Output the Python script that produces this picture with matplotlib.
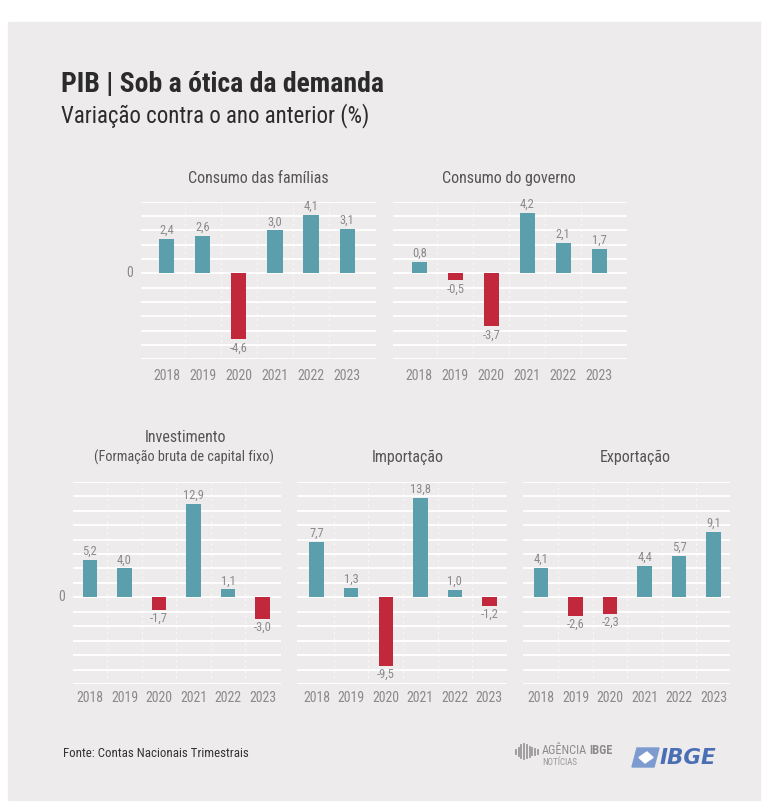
import matplotlib
matplotlib.use("Agg")
import matplotlib.pyplot as plt
import matplotlib.font_manager as fm
from matplotlib.patches import Rectangle, Polygon

years = ["2018", "2019", "2020", "2021", "2022", "2023"]
familias = [2.4, 2.6, -4.6, 3.0, 4.1, 3.1]
governo = [0.8, -0.5, -3.7, 4.2, 2.1, 1.7]
investimento = [5.2, 4.0, -1.7, 12.9, 1.1, -3.0]
importacao = [7.7, 1.3, -9.5, 13.8, 1.0, -1.2]
exportacao = [4.1, -2.6, -2.3, 4.4, 5.7, 9.1]

W, H = 768, 805
BG = "#eeebec"
TEAL = "#5b9fad"
RED = "#c1283b"
GRAY = "#8a8a8a"
DARK = "#2b2b2b"


def pick(names):
    for n in names:
        try:
            fm.findfont(fm.FontProperties(family=n), fallback_to_default=False)
            return n
        except ValueError:
            pass
    return "DejaVu Sans"


FONT = pick(["Liberation Sans Narrow", "Roboto Condensed", "Open Sans Condensed", "Roboto"])
plt.rcParams["font.family"] = [FONT, "DejaVu Sans"]

fig = plt.figure(figsize=(W / 100, H / 100), dpi=100)
fig.patch.set_facecolor("white")
fig.patches.append(Rectangle((8 / W, 1 - 800 / H), 752 / W, 778 / H,
                             transform=fig.transFigure, color=BG, zorder=-10))


def px_axes(x0, y0, x1, y1):
    return fig.add_axes([x0 / W, 1 - y1 / H, (x1 - x0) / W, (y1 - y0) / H])


def panel(box, xlim, ylim, step, values, year_y, zero_label):
    ax = px_axes(*box)
    ax.set_facecolor("none")
    ax.set_xlim(*xlim)
    ax.set_ylim(*ylim)
    for v in range(ylim[0], ylim[1] + 1, step):
        ax.axhline(v, color="white", lw=1.3, zorder=1)
    for i in range(len(years) - 1):
        ax.axvline(i + 0.5, color="white", lw=0.8, ls=(0, (2, 3)), alpha=0.7, zorder=1)
    x = list(range(len(years)))
    colors = [TEAL if v >= 0 else RED for v in values]
    ax.bar(x, values, width=0.42, color=colors, zorder=2)
    for xi, v in zip(x, values):
        lab = f"{v:.1f}".replace(".", ",")
        if v >= 0:
            ax.annotate(lab, (xi, v), xytext=(0, 1.5), textcoords="offset points",
                        ha="center", va="bottom", fontsize=9, color=GRAY)
        else:
            ax.annotate(lab, (xi, v), xytext=(0, -1.5), textcoords="offset points",
                        ha="center", va="top", fontsize=9, color=GRAY)
    for xi, y in zip(x, years):
        ax.annotate(y, (xi, 0), xycoords=("data", "axes fraction"),
                    xytext=(0, -(year_y - box[3]) * 0.72), textcoords="offset points",
                    ha="center", va="center", fontsize=10, color=GRAY)
    if zero_label:
        ax.annotate("0", (xlim[0], 0), xytext=(-6, 0), textcoords="offset points",
                    ha="right", va="center", fontsize=10, color=GRAY)
    ax.set_xticks([])
    ax.set_yticks([])
    for s in ax.spines.values():
        s.set_visible(False)
    return ax


panel((141, 201.7, 376, 359.3), (-0.71, 5.8), (-6, 5), 1, familias, 376, True)
panel((393, 201.7, 627, 359.3), (-0.73, 5.77), (-6, 5), 1, governo, 376, False)
panel((73, 481.7, 281, 684), (-0.49, 5.53), (-12, 16), 2, investimento, 698, True)
panel((297, 481.7, 507, 684), (-0.57, 5.51), (-12, 16), 2, importacao, 698, False)
panel((523, 481.7, 730, 684), (-0.53, 5.48), (-12, 16), 2, exportacao, 698, False)


def ftext(x, y, s, **kw):
    return fig.text(x / W, 1 - y / H, s, **kw)


ftext(61, 85, "PIB | Sob a ótica da demanda", fontsize=20, fontweight="bold",
      color=DARK, va="center")
ftext(61, 116, "Variação contra o ano anterior (%)", fontsize=16.5, color=DARK, va="center")

ftext(258, 178, "Consumo das famílias", fontsize=11.5, color="#555555", ha="center", va="center")
ftext(509, 178, "Consumo do governo", fontsize=11.5, color="#555555", ha="center", va="center")
ftext(185, 437, "Investimento", fontsize=11.5, color="#555555", ha="center", va="center")
ftext(184, 457, "(Formação bruta de capital fixo)", fontsize=10.3, color="#555555",
      ha="center", va="center")
ftext(408, 457, "Importação", fontsize=11.5, color="#555555", ha="center", va="center")
ftext(635, 457, "Exportação", fontsize=11.5, color="#555555", ha="center", va="center")

ftext(63, 753, "Fonte: Contas Nacionais Trimestrais", fontsize=9.3, color="#333333", va="center")

# logos
for k, hgt in enumerate([4, 7, 11, 14, 12, 9, 6, 5, 4]):
    xx = (516 + k * 2.7) / W
    fig.add_artist(plt.Line2D([xx, xx], [1 - (752 + hgt * 0.5) / H, 1 - (752 - hgt * 0.6) / H],
                              transform=fig.transFigure, color="#9a9a9a", lw=1.3))
ag = ftext(542, 750, "AGÊNCIA", fontsize=8.8, color="#8c8c8c", va="center")
fig.add_artist(plt.Annotation("IBGE", (1, 0.5), xycoords=ag, xytext=(1.5, 0),
                              textcoords="offset points", ha="left", va="center",
                              fontsize=8.8, fontweight="bold", color="#8c8c8c"))
ftext(542, 762, "NOTÍCIAS", fontsize=6.5, color="#9a9a9a", va="center")
fig.patches.append(Polygon([[632 / W, 1 - 767 / H], [637 / W, 1 - 748 / H],
                            [659 / W, 1 - 748 / H], [654 / W, 1 - 767 / H]],
                           closed=True, transform=fig.transFigure, color="#7e9bd0"))
fig.patches.append(Polygon([[639 / W, 1 - 757.5 / H], [647 / W, 1 - 752 / H],
                            [653 / W, 1 - 757.5 / H], [645 / W, 1 - 763 / H]],
                           closed=True, transform=fig.transFigure, color="white"))
ftext(660, 758, "IBGE", fontsize=15.5, fontweight="bold", fontstyle="italic",
      family=["DejaVu Sans"], color="#4a6fb5", va="center")

fig.savefig("out.png", dpi=100, facecolor=fig.get_facecolor())
